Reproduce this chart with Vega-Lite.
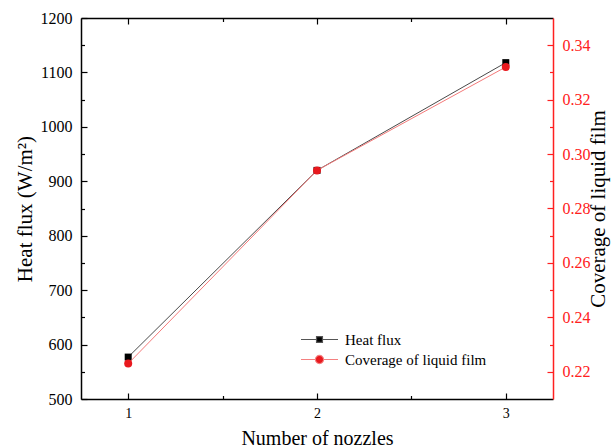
{
  "$schema": "https://vega.github.io/schema/vega-lite/v6.json",
  "width": 472,
  "height": 381,
  "autosize": {"type": "none"},
  "padding": {"left": 81, "top": 18, "right": 60, "bottom": 49},
  "background": "white",
  "config": {
    "view": {"stroke": null},
    "font": "Liberation Serif",
    "axis": {"grid": false, "labelFont": "Liberation Serif", "titleFont": "Liberation Serif", "titleFontWeight": "normal", "domainWidth": 1.5, "tickWidth": 1.2}
  },
  "data": {
    "values": [
      {"n": 1, "hf": 577, "cov": 0.223},
      {"n": 2, "hf": 920, "cov": 0.294},
      {"n": 3, "hf": 1118, "cov": 0.332}
    ]
  },
  "layer": [
    {
      "mark": {"type": "line", "color": "#4a4a4a", "strokeWidth": 1},
      "encoding": {
        "x": {"field": "n", "type": "quantitative", "scale": {"domain": [0.75, 3.25]},
          "axis": {"orient": "bottom", "values": [1, 2, 3], "format": "d", "title": "Number of nozzles", "titleFontSize": 20, "titleColor": "#000", "titlePadding": 8, "labelFontSize": 14, "labelColor": "#000", "labelPadding": 13, "tickSize": -6, "tickColor": "#000", "domainColor": "#000"}},
        "y": {"field": "hf", "type": "quantitative", "scale": {"domain": [500, 1200]},
          "axis": {"orient": "left", "values": [500, 600, 700, 800, 900, 1000, 1100, 1200], "format": "d", "title": "Heat flux (W/m²)", "titleFontSize": 21, "titleColor": "#000", "titlePadding": 5, "labelFontSize": 16, "labelColor": "#000", "labelPadding": 15, "tickSize": -6, "tickColor": "#000", "domainColor": "#000"}}
      }
    },
    {
      "mark": {"type": "point", "shape": "square", "filled": true, "size": 49, "opacity": 1},
      "encoding": {
        "x": {"field": "n", "type": "quantitative", "scale": {"domain": [0.75, 3.25]},
          "axis": {"orient": "top", "values": [1, 2, 3], "labels": false, "title": null, "tickSize": -6, "tickColor": "#000", "domainColor": "#000"}},
        "y": {"field": "hf", "type": "quantitative", "scale": {"domain": [500, 1200]},
          "axis": {"orient": "left", "values": [550, 650, 750, 850, 950, 1050, 1150], "labels": false, "title": null, "domain": false, "tickSize": -3.5, "tickColor": "#000"}},
        "fill": {"datum": "Heat flux", "type": "nominal",
          "scale": {"domain": ["Heat flux"], "range": ["#000000"]},
          "legend": {
            "title": null, "orient": "none", "legendX": 219, "legendY": 302,
            "labelFont": "Liberation Serif", "labelFontSize": 15, "labelColor": "#000",
            "symbolSize": 1369, "labelOffset": 6,
            "symbolType": "M-1,0H-0.16M0.16,0H1M-0.16,-0.16H0.16V0.16H-0.16Z",
            "symbolStrokeColor": "#555555", "symbolStrokeWidth": 1.2, "symbolOpacity": 1
          }}
      }
    },
    {
      "mark": {"type": "line", "color": "#f47a7a", "strokeWidth": 1},
      "encoding": {
        "x": {"field": "n", "type": "quantitative", "scale": {"domain": [0.75, 3.25]},
          "axis": {"orient": "bottom", "values": [1.5, 2.5], "labels": false, "title": null, "domain": false, "tickSize": -3.5, "tickColor": "#000"}},
        "y": {"field": "cov", "type": "quantitative", "scale": {"domain": [0.21, 0.35]},
          "axis": {"orient": "right", "values": [0.22, 0.24, 0.26, 0.28, 0.30, 0.32, 0.34], "format": ".2f", "title": "Coverage of liquid film", "titleAngle": -90, "titleBaseline": "top", "titleFontSize": 21, "titleColor": "#000", "titlePadding": -3, "labelFontSize": 16, "labelColor": "#ff2020", "labelPadding": 15, "tickSize": -6, "tickColor": "#ff2020", "domainColor": "#ff2020"}}
      }
    },
    {
      "mark": {"type": "point", "shape": "circle", "filled": true, "size": 64, "opacity": 1},
      "encoding": {
        "x": {"field": "n", "type": "quantitative", "scale": {"domain": [0.75, 3.25]},
          "axis": {"orient": "top", "values": [1.5, 2.5], "labels": false, "title": null, "domain": false, "tickSize": -3.5, "tickColor": "#000"}},
        "y": {"field": "cov", "type": "quantitative", "scale": {"domain": [0.21, 0.35]},
          "axis": {"orient": "right", "values": [0.23, 0.25, 0.27, 0.29, 0.31, 0.33], "labels": false, "title": null, "domain": false, "tickSize": -3.5, "tickColor": "#ff2020"}},
        "color": {"datum": "Coverage of liquid film", "type": "nominal",
          "scale": {"domain": ["Coverage of liquid film"], "range": ["#e8191e"]},
          "legend": {
            "title": null, "orient": "none", "legendX": 219, "legendY": 322,
            "labelFont": "Liberation Serif", "labelFontSize": 15, "labelColor": "#000",
            "symbolSize": 1369, "labelOffset": 6,
            "symbolType": "M-1,0H-0.22M0.22,0H1M-0.22,0A0.22,0.22 0 1,0 0.22,0A0.22,0.22 0 1,0 -0.22,0Z",
            "symbolStrokeColor": "#f48080", "symbolStrokeWidth": 1.2, "symbolOpacity": 1
          }}
      }
    }
  ],
  "resolve": {"scale": {"y": "independent"}, "axis": {"x": "independent", "y": "independent"}}
}
